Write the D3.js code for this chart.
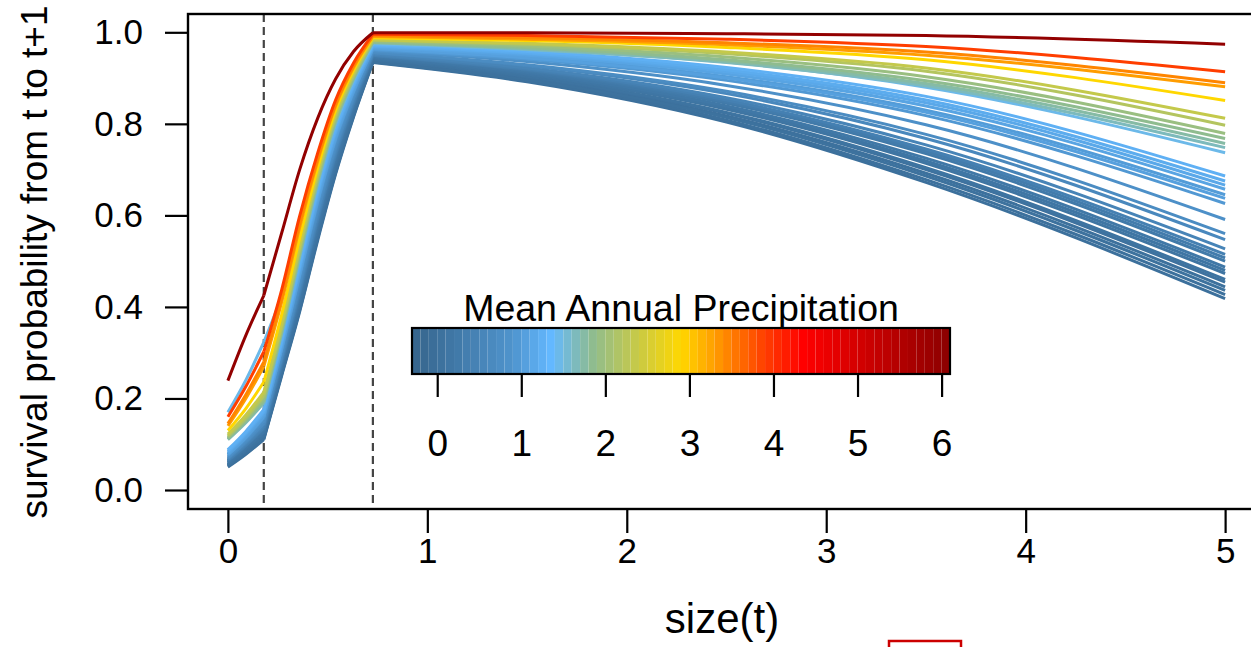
<!DOCTYPE html>
<html>
<head>
<meta charset="utf-8">
<script src="https://cdn.jsdelivr.net/npm/d3@7"></script>
<style>
  body { margin: 0; background: #fff; }
  svg text { font-family: "Liberation Sans", Arial, Helvetica, sans-serif; fill: #000; }
</style>
</head>
<body>
<svg id="chart" width="1251" height="647"></svg>
<script>
// size(t) grid of the three fitted pieces (breaks at the dashed lines)
const sizeSeg1 = [0, 0.09, 0.18];
const sizeSeg2 = [0.18, 0.27, 0.36, 0.45, 0.54, 0.63, 0.727];
const sizeSeg3 = [0.727, 1.5, 2.5, 3.5, 5];
const breaks = [0.18, 0.727];

// mean annual precipitation of each curve (drives the colour)
const precip = [0.00, 0.02, 0.03, 0.05, 0.06, 0.10, 0.12, 0.15, 0.20, 0.25, 0.30, 0.40,
  0.50, 0.60, 0.70, 0.80, 0.95, 1.00, 1.05, 1.10, 1.15, 1.20, 1.25, 1.45,
  1.65, 1.75, 1.85, 1.95, 2.20, 2.35, 2.90, 3.30, 3.45, 3.90, 6.00];

// survival read at sizeSeg1
const surv1 = [
  [0.050, 0.078, 0.110], [0.052, 0.080, 0.112], [0.054, 0.083, 0.116], [0.053, 0.082, 0.114],
  [0.055, 0.085, 0.118], [0.056, 0.086, 0.120], [0.058, 0.089, 0.124], [0.060, 0.091, 0.126],
  [0.061, 0.093, 0.128], [0.063, 0.096, 0.132], [0.064, 0.097, 0.134], [0.065, 0.098, 0.136],
  [0.067, 0.101, 0.140], [0.069, 0.104, 0.144], [0.070, 0.105, 0.146], [0.073, 0.109, 0.152],
  [0.076, 0.113, 0.158], [0.078, 0.117, 0.162], [0.077, 0.115, 0.160], [0.080, 0.120, 0.166],
  [0.083, 0.123, 0.170], [0.085, 0.125, 0.172], [0.088, 0.128, 0.176], [0.170, 0.240, 0.323],
  [0.110, 0.147, 0.190], [0.111, 0.149, 0.192], [0.113, 0.151, 0.196], [0.115, 0.154, 0.200],
  [0.118, 0.158, 0.206], [0.122, 0.164, 0.214], [0.130, 0.178, 0.236], [0.140, 0.200, 0.270],
  [0.145, 0.208, 0.280], [0.160, 0.226, 0.302], [0.239, 0.338, 0.425]
];

// survival read at sizeSeg2
const surv2 = [
  [0.110, 0.250, 0.390, 0.545, 0.690, 0.815, 0.934],
  [0.112, 0.253, 0.393, 0.549, 0.693, 0.817, 0.935],
  [0.116, 0.257, 0.400, 0.556, 0.700, 0.822, 0.938],
  [0.114, 0.255, 0.397, 0.552, 0.697, 0.820, 0.937],
  [0.118, 0.260, 0.405, 0.561, 0.705, 0.826, 0.940],
  [0.120, 0.263, 0.408, 0.565, 0.708, 0.828, 0.941],
  [0.124, 0.267, 0.413, 0.570, 0.713, 0.832, 0.943],
  [0.126, 0.270, 0.417, 0.574, 0.716, 0.834, 0.944],
  [0.128, 0.272, 0.421, 0.579, 0.721, 0.838, 0.946],
  [0.132, 0.277, 0.427, 0.585, 0.726, 0.841, 0.948],
  [0.134, 0.279, 0.430, 0.588, 0.730, 0.844, 0.949],
  [0.136, 0.282, 0.433, 0.592, 0.733, 0.846, 0.950],
  [0.140, 0.286, 0.439, 0.597, 0.738, 0.850, 0.952],
  [0.144, 0.291, 0.445, 0.605, 0.744, 0.855, 0.955],
  [0.146, 0.293, 0.449, 0.608, 0.748, 0.857, 0.956],
  [0.152, 0.300, 0.458, 0.618, 0.756, 0.863, 0.959],
  [0.158, 0.307, 0.467, 0.627, 0.764, 0.869, 0.962],
  [0.162, 0.312, 0.473, 0.634, 0.771, 0.874, 0.965],
  [0.160, 0.309, 0.470, 0.630, 0.768, 0.871, 0.964],
  [0.166, 0.316, 0.479, 0.639, 0.776, 0.877, 0.967],
  [0.170, 0.321, 0.484, 0.645, 0.781, 0.881, 0.969],
  [0.172, 0.323, 0.487, 0.649, 0.784, 0.883, 0.970],
  [0.176, 0.328, 0.493, 0.654, 0.789, 0.887, 0.972],
  [0.323, 0.425, 0.555, 0.680, 0.800, 0.894, 0.975],
  [0.190, 0.342, 0.509, 0.669, 0.802, 0.897, 0.977],
  [0.192, 0.344, 0.513, 0.673, 0.806, 0.899, 0.978],
  [0.196, 0.348, 0.517, 0.677, 0.809, 0.901, 0.979],
  [0.200, 0.352, 0.521, 0.681, 0.812, 0.904, 0.981],
  [0.206, 0.358, 0.528, 0.687, 0.817, 0.907, 0.983],
  [0.214, 0.365, 0.535, 0.693, 0.822, 0.911, 0.984],
  [0.236, 0.384, 0.551, 0.704, 0.830, 0.917, 0.988],
  [0.270, 0.411, 0.574, 0.718, 0.839, 0.923, 0.991],
  [0.280, 0.420, 0.582, 0.724, 0.843, 0.927, 0.993],
  [0.302, 0.438, 0.599, 0.736, 0.852, 0.933, 0.996],
  [0.425, 0.562, 0.700, 0.812, 0.898, 0.958, 0.999]
];

// survival read at sizeSeg3
const surv3 = [
  [0.934, 0.892, 0.804, 0.672, 0.418], [0.935, 0.894, 0.808, 0.678, 0.427],
  [0.938, 0.899, 0.817, 0.692, 0.444], [0.937, 0.897, 0.814, 0.686, 0.436],
  [0.940, 0.902, 0.823, 0.700, 0.454], [0.941, 0.904, 0.825, 0.704, 0.460],
  [0.943, 0.907, 0.832, 0.714, 0.473], [0.944, 0.909, 0.835, 0.719, 0.480],
  [0.946, 0.912, 0.839, 0.725, 0.487], [0.948, 0.915, 0.845, 0.735, 0.500],
  [0.949, 0.917, 0.848, 0.740, 0.507], [0.950, 0.919, 0.852, 0.745, 0.515],
  [0.952, 0.922, 0.857, 0.754, 0.527], [0.955, 0.927, 0.866, 0.768, 0.547],
  [0.956, 0.929, 0.871, 0.777, 0.560], [0.959, 0.936, 0.884, 0.798, 0.591],
  [0.962, 0.941, 0.895, 0.818, 0.626], [0.965, 0.946, 0.903, 0.830, 0.645],
  [0.964, 0.944, 0.900, 0.825, 0.637], [0.967, 0.950, 0.909, 0.839, 0.657],
  [0.969, 0.953, 0.914, 0.846, 0.666], [0.970, 0.955, 0.918, 0.852, 0.675],
  [0.972, 0.958, 0.923, 0.860, 0.686], [0.975, 0.962, 0.935, 0.880, 0.737],
  [0.977, 0.963, 0.934, 0.883, 0.748], [0.978, 0.965, 0.937, 0.888, 0.757],
  [0.979, 0.967, 0.940, 0.894, 0.768], [0.981, 0.970, 0.946, 0.903, 0.779],
  [0.983, 0.974, 0.953, 0.915, 0.797], [0.984, 0.976, 0.957, 0.922, 0.812],
  [0.988, 0.982, 0.967, 0.940, 0.851], [0.991, 0.985, 0.973, 0.950, 0.881],
  [0.993, 0.988, 0.977, 0.957, 0.890], [0.996, 0.993, 0.985, 0.969, 0.914],
  [0.999, 0.999, 0.997, 0.993, 0.974]
];

const xTicks = [0, 1, 2, 3, 4, 5];
const yTicks = [0, 0.2, 0.4, 0.6, 0.8, 1.0];
const legendTicks = [0, 1, 2, 3, 4, 5, 6];
const legendRange = [-0.3, 6.1];

// colour ramp, blue (dry) to dark red (wet)
const rampAt = [-0.3, 0.9, 1.35, 1.85, 2.9, 3.25, 3.85, 4.35, 6.1];
const rampCol = ["#36648B", "#4F94CD", "#63B8FF", "#8FBC8F", "#FFD700", "#FFA500", "#FF4500", "#FF0000", "#8B0000"];

const svg = d3.select("#chart");

const x = d3.scaleLinear().domain([-0.2, 5.2]).range([188, 1265]);
const y = d3.scaleLinear().domain([-0.04, 1.04]).range([508.3, 14]);
const color = d3.scaleLinear().domain(rampAt).range(rampCol).interpolate(d3.interpolateRgb);

const plot = svg.append("g");

// dashed size breaks
plot.selectAll("line.brk")
    .data(breaks)
    .enter()
    .append("line")
    .attr("x1", d => x(d)).attr("x2", d => x(d))
    .attr("y1", 14).attr("y2", 509)
    .attr("stroke", "#444")
    .attr("stroke-width", 2.2)
    .attr("stroke-dasharray", "8,5");

const line = d3.line()
    .x(d => x(d[0]))
    .y(d => y(d[1]))
    .curve(d3.curveMonotoneX);

precip.forEach((p, i) => {
    const pieces = [
        sizeSeg1.map((s, j) => [s, surv1[i][j]]),
        sizeSeg2.map((s, j) => [s, surv2[i][j]]),
        sizeSeg3.map((s, j) => [s, surv3[i][j]])
    ];
    pieces.forEach(pts => {
        plot.append("path")
            .attr("d", line(pts))
            .attr("fill", "none")
            .attr("stroke", color(p))
            .attr("stroke-width", 3)
            .attr("stroke-linecap", "butt")
            .attr("stroke-linejoin", "round");
    });
});

// frame
svg.append("rect")
    .attr("x", 188).attr("y", 14)
    .attr("width", 1265 - 188).attr("height", 509 - 14)
    .attr("fill", "none")
    .attr("stroke", "#000")
    .attr("stroke-width", 2.4);

// axes
const yAxis = svg.append("g")
    .attr("transform", "translate(188,0)")
    .call(d3.axisLeft(y).tickValues(yTicks).tickFormat(d3.format(".1f")).tickSize(23).tickPadding(22));
const xAxis = svg.append("g")
    .attr("transform", "translate(0,509)")
    .call(d3.axisBottom(x).tickValues(xTicks).tickFormat(d3.format("d")).tickSize(24).tickPadding(5));

[yAxis, xAxis].forEach(g => {
    g.select(".domain").remove();
    g.selectAll(".tick line").attr("stroke", "#000").attr("stroke-width", 2.2);
    g.selectAll(".tick text")
        .attr("fill", "#000")
        .style("font-size", "35px")
        .style("font-family", "'Liberation Sans', Arial, sans-serif");
});

svg.append("text")
    .attr("x", 722).attr("y", 633)
    .attr("text-anchor", "middle")
    .style("font-size", "42px")
    .text("size(t)");

svg.append("text")
    .attr("transform", "translate(47,262) rotate(-90)")
    .attr("text-anchor", "middle")
    .style("font-size", "37px")
    .text("survival probability from t to t+1");

// precipitation legend
const lx = d3.scaleLinear().domain(legendRange).range([412, 950]);
const nStripes = 64;
const stripeW = (legendRange[1] - legendRange[0]) / nStripes;
const stripes = d3.range(nStripes).map(k => legendRange[0] + k * stripeW);

const leg = svg.append("g");
leg.selectAll("rect.stripe")
    .data(stripes)
    .enter()
    .append("rect")
    .attr("x", d => lx(d))
    .attr("y", 328)
    .attr("width", d => lx(d + stripeW) - lx(d))
    .attr("height", 46)
    .attr("fill", d => color(d + stripeW / 2));

leg.append("rect")
    .attr("x", 412).attr("y", 328)
    .attr("width", 538).attr("height", 46)
    .attr("fill", "none")
    .attr("stroke", "#000")
    .attr("stroke-width", 2.2);

const legAxis = leg.append("g")
    .attr("transform", "translate(0,374)")
    .call(d3.axisBottom(lx).tickValues(legendTicks).tickFormat(d3.format("d")).tickSize(23).tickPadding(33));
legAxis.select(".domain").remove();
legAxis.selectAll(".tick line").attr("stroke", "#000").attr("stroke-width", 2.2);
legAxis.selectAll(".tick text")
    .attr("fill", "#000")
    .style("font-size", "37px")
    .style("font-family", "'Liberation Sans', Arial, sans-serif");

leg.append("text")
    .attr("x", 681).attr("y", 321)
    .attr("text-anchor", "middle")
    .style("font-size", "37.5px")
    .text("Mean Annual Precipitation");

// red box peeking in at the bottom edge
svg.append("rect")
    .attr("x", 889).attr("y", 641)
    .attr("width", 72).attr("height", 20)
    .attr("fill", "none")
    .attr("stroke", "#cc0000")
    .attr("stroke-width", 2.5);
</script>
</body>
</html>
